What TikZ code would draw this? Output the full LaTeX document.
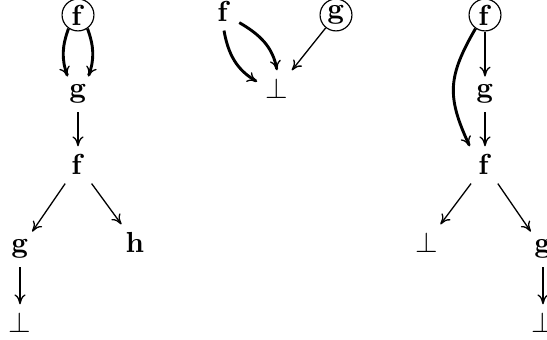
\documentclass[tikz,border=0pt]{standalone}
\usetikzlibrary{arrows.meta}
\begin{document}
\begin{tikzpicture}[x=0.345pt,y=0.345pt,
  lbl/.style={inner sep=2.76pt, anchor=base},
  circ/.style={circle, draw, line width=0.4pt, minimum size=11pt, inner sep=0pt},
  arrthin/.style={line width=0.45pt, -{To[length=3.4pt,width=3.8pt]}},
  arrbold/.style={line width=1pt, -{To[length=3.4pt,width=3.8pt,line width=0.45pt]}}]
\useasboundingbox (0,0) rectangle (547,340);
\clip (0,0) rectangle (547,340);
% left tree
\node[circ] (F1) at (78,325) {$\mathbf{f}$};
\node[lbl] (G1) at (78,242) {$\mathbf{g}$};
\node[lbl] (F2) at (78,165) {$\mathbf{f}$};
\node[lbl] (G2) at (20,87) {$\mathbf{g}$};
\node[lbl] (H) at (135,87) {$\mathbf{h}$};
\node[lbl] (B1) at (20,7) {$\bot$};
% middle
\node[lbl] (F3) at (224,318) {$\mathbf{f}$};
\node[circ] (G3) at (336,325) {$\mathbf{g}$};
\node[lbl] (B2) at (277,241) {$\bot$};
% right tree
\node[circ] (F4) at (485,325) {$\mathbf{f}$};
\node[lbl] (G4) at (485,242) {$\mathbf{g}$};
\node[lbl] (F5) at (485,165) {$\mathbf{f}$};
\node[lbl] (B3) at (426.5,87) {$\bot$};
\node[lbl] (G5) at (543,87) {$\mathbf{g}$};
\node[lbl] (B4) at (543,7) {$\bot$};
% left connectors
\draw[arrbold] (F1.235) to[out=250,in=110] (G1.120);
\draw[arrbold] (F1.-55) to[out=290,in=70] (G1.60);
\draw[arrthin] (G1) -- (F2);
\draw[arrthin] (F2) -- (G2);
\draw[arrthin] (F2) -- (H);
\draw[arrbold] (G2) -- (B1);
% middle connectors
\draw[arrbold] (F3.south) to[out=-80,in=150] (B2.160);
\draw[arrbold] (F3.-35) to[out=-30,in=100] (B2.north);
\draw[arrthin] (G3) -- (B2);
% right connectors
\draw[arrbold] (F4) -- (G4);
\draw[arrbold] (G4) -- (F5);
\draw[arrbold] (F4.235) to[out=240,in=115,looseness=1.2] (F5.north west);
\draw[arrthin] (F5) -- (B3);
\draw[arrthin] (F5) -- (G5);
\draw[arrbold] (G5) -- (B4);
\end{tikzpicture}
\end{document}
